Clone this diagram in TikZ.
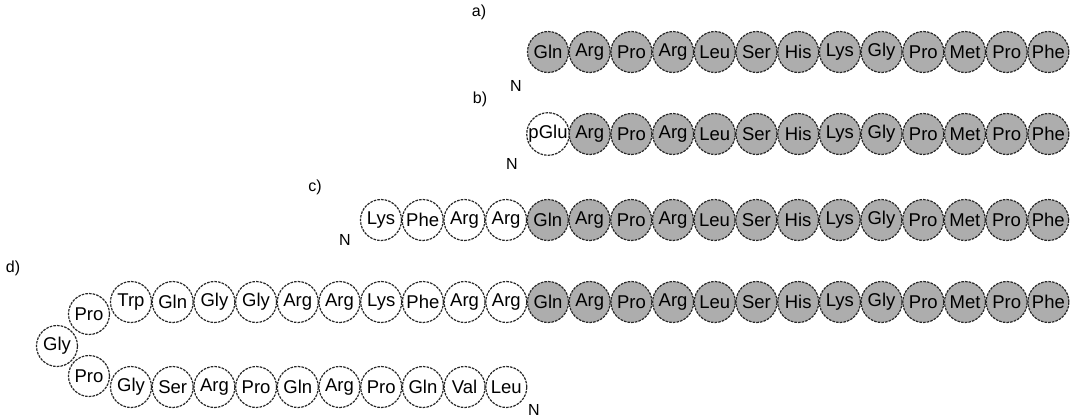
\documentclass[tikz,border=0pt]{standalone}
\usepackage{fontspec}
\setmainfont{Liberation Sans}
\usetikzlibrary{positioning}
\tikzset{
  residue/.style={circle, draw=black!85, dash pattern=on 2.6pt off 1.1pt, line width=1.2pt, fill=black!32, minimum size=41pt, inner sep=0pt, font=\fontsize{18.5}{19}\selectfont},
  freeres/.style={residue, fill=white},
  rowlabel/.style={font=\fontsize{16}{17}\selectfont},
  endlabel/.style={font=\fontsize{16}{17}\selectfont}
}
\def\core{Gln,Arg,Pro,Arg,Leu,Ser,His,Lys,Gly,Pro,Met,Pro,Phe}

\begin{document}
\begin{tikzpicture}[x=1pt, y=-1pt]
  \useasboundingbox (0,0) rectangle (1073,418);

  % a) native chain
  \node[rowlabel] (la) at (479,12) {a)};
  \foreach \r [count=\i] in \core
    \node[residue] (a\i) at ({548+41.7*(\i-1)},52) {\r};
  \node[endlabel] (na) at (516,86) {N};

  % b) pGlu form
  \node[rowlabel] (lb) at (480,99) {b)};
  \node[freeres] (b1) at (548,134) {pGlu};
  \foreach \r [count=\i from 2] in {Arg,Pro,Arg,Leu,Ser,His,Lys,Gly,Pro,Met,Pro,Phe}
    \node[residue] (b\i) at ({548+41.7*(\i-1)},134) {\r};
  \node[endlabel] (nb) at (512,164) {N};

  % c) extended chain
  \node[rowlabel] (lc) at (315,187) {c)};
  \foreach \r [count=\i] in {Lys,Phe,Arg,Arg}
    \node[freeres] (c\i) at ({381+41.7*(\i-1)},220) {\r};
  \foreach \r [count=\i from 5] in \core
    \node[residue] (c\i) at ({381+41.7*(\i-1)},220) {\r};
  \node[endlabel] (nc) at (345,240) {N};

  % d) precursor, folded
  \node[rowlabel] (ld) at (13,268) {d)};
  \foreach \r [count=\i] in {Trp,Gln,Gly,Gly,Arg,Arg,Lys,Phe,Arg,Arg}
    \node[freeres] (d\i) at ({131+41.7*(\i-1)},302) {\r};
  \foreach \r [count=\i from 11] in \core
    \node[residue] (d\i) at ({131+41.7*(\i-1)},302) {\r};
  \node[freeres] (dpa) at (89,314) {Pro};
  \node[freeres] (dg) at (57,346) {Gly};
  \node[freeres] (dpb) at (89,376) {Pro};
  \foreach \r [count=\i] in {Gly,Ser,Arg,Pro,Gln,Arg,Pro,Gln,Val,Leu}
    \node[freeres] (e\i) at ({131+41.7*(\i-1)},387) {\r};
  \node[endlabel] (nd) at (534,410) {N};
\end{tikzpicture}
\end{document}
